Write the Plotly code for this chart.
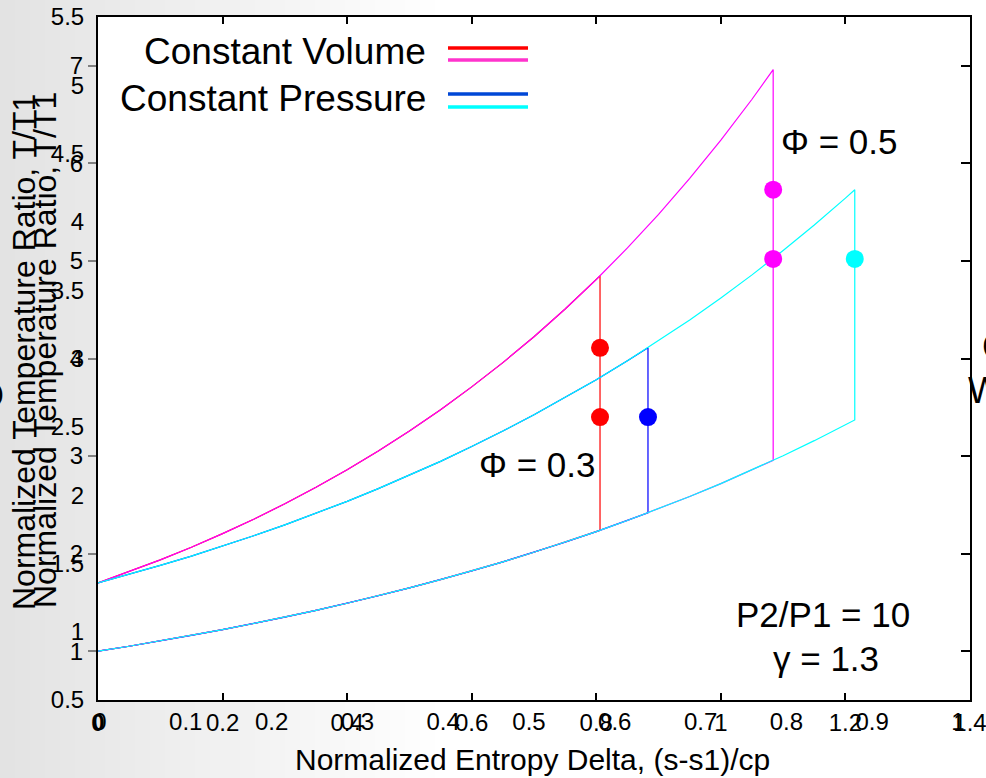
import plotly.graph_objects as go

# ---------------- data ----------------
# Normalized entropy delta (s-s1)/cp sample points and temperature ratios T/T1
s_grid = [0.0, 0.05, 0.1, 0.15, 0.2, 0.25, 0.3, 0.35, 0.4, 0.45, 0.5, 0.55, 0.6, 0.65,
          0.7, 0.75, 0.8, 0.85, 0.9, 0.95, 1.0, 1.05, 1.1, 1.15, 1.2]
# upper curve, constant volume heat addition
t_cv_upper = [1.700, 1.814, 1.936, 2.066, 2.205, 2.353, 2.511, 2.680, 2.859, 3.052, 3.256,
              3.475, 3.709, 3.958, 4.223, 4.507, 4.810, 5.133, 5.477, 5.845, 6.238, 6.657]
# upper curve, constant pressure heat addition
t_cp_upper = [1.700, 1.787, 1.879, 1.975, 2.076, 2.183, 2.295, 2.412, 2.536, 2.666, 2.803,
              2.946, 3.098, 3.256, 3.423, 3.599, 3.783, 3.977, 4.182, 4.395, 4.621, 4.857,
              5.107, 5.368, 5.644]
# lower (heat rejection) curve, common to all cycles
t_lower = [1.000, 1.051, 1.105, 1.162, 1.221, 1.284, 1.350, 1.419, 1.492, 1.568, 1.649,
           1.733, 1.822, 1.916, 2.014, 2.117, 2.226, 2.340, 2.460, 2.586, 2.718, 2.858,
           3.004, 3.158, 3.320]

# end of heat addition for each cycle: (s_end, T_upper_end, T_lower_end)
cv03_end = (0.806, 4.847, 2.239)   # constant volume, phi = 0.3 (red)
cp03_end = (0.883, 4.111, 2.418)   # constant pressure, phi = 0.3 (blue)
cv05_end = (1.084, 6.961, 2.956)   # constant volume, phi = 0.5 (magenta)
cp05_end = (1.215, 5.730, 3.370)   # constant pressure, phi = 0.5 (cyan)

# Dot markers
dot_red_x = [0.806, 0.806]
dot_red_y = [4.11, 3.40]
dot_blue_x = [0.883]
dot_blue_y = [3.40]
dot_mag_x = [1.084, 1.084]
dot_mag_y = [5.73, 5.02]
dot_cyan_x = [1.215]
dot_cyan_y = [5.02]

# Tick values of the two overlaid axis sets
x_ticks_main = [0, 0.2, 0.4, 0.6, 0.8, 1.0, 1.2, 1.4]
y_ticks_main = [1, 2, 3, 4, 5, 6, 7]
x_ticks_over = [0, 0.1, 0.2, 0.3, 0.4, 0.5, 0.6, 0.7, 0.8, 0.9, 1.0]
y_ticks_over = [0.5, 1, 1.5, 2, 2.5, 3, 3.5, 4, 4.5, 5, 5.5]

legend_labels = ["Constant Volume", "Constant Pressure"]

# ---------------- layout geometry ----------------
W, H = 986, 778
L, R, T, B = 98, 970, 17, 700
FONT = "Liberation Sans, Arial, Helvetica, sans-serif"
X_RANGE = [0, 1.4]
Y_RANGE = [0.5, 7.5]


def pxx(x):
    return (x - L) / (R - L)


def pxy(y):
    return (B - y) / (B - T)


fig = go.Figure()


def cycle(upper, end, color, name):
    s_end, t_up_end, t_low_end = end
    idx = [i for i, s in enumerate(s_grid) if s < s_end and i < len(upper)]
    s_part = [s_grid[i] for i in idx]
    xs = s_part + [s_end, s_end] + list(reversed(s_part))
    ys = ([upper[i] for i in idx] + [t_up_end, t_low_end]
          + list(reversed([t_lower[i] for i in idx])))
    fig.add_trace(go.Scatter(x=xs, y=ys, mode="lines", name=name,
                             line=dict(color=color, width=1.2),
                             showlegend=False, hoverinfo="skip"))


cycle(t_cv_upper, cv03_end, "#ff0000", "CV phi 0.3")
cycle(t_cp_upper, cp03_end, "#0000ff", "CP phi 0.3")
cycle(t_cv_upper, cv05_end, "#ff00ff", "CV phi 0.5")
cycle(t_cp_upper, cp05_end, "#00ffff", "CP phi 0.5")

for xs, ys, c in [(dot_red_x, dot_red_y, "#ff0000"), (dot_blue_x, dot_blue_y, "#0000ff"),
                  (dot_mag_x, dot_mag_y, "#ff00ff"), (dot_cyan_x, dot_cyan_y, "#00ffff")]:
    fig.add_trace(go.Scatter(x=xs, y=ys, mode="markers", showlegend=False,
                             marker=dict(color=c, size=18, line=dict(width=0))))

# invisible traces to activate the overlaid axes
fig.add_trace(go.Scatter(x=[0.5], y=[1], xaxis="x2", yaxis="y2", mode="markers",
                         marker=dict(opacity=0), showlegend=False, hoverinfo="skip"))
fig.add_trace(go.Scatter(x=[0.5], y=[1], xaxis="x", yaxis="y3", mode="markers",
                         marker=dict(opacity=0), showlegend=False, hoverinfo="skip"))

tickfont = dict(family=FONT, size=24, color="black")
plain = dict(showgrid=False, zeroline=False)

fig.update_layout(
    width=W, height=H,
    margin=dict(l=L, r=W - R, t=T, b=H - B, autoexpand=False),
    paper_bgcolor="white", plot_bgcolor="white",
    showlegend=False,
    # main axis set (0..1.4, 1..7)
    xaxis=dict(range=X_RANGE, tickvals=x_ticks_main,
               ticktext=["<b>0</b>"] + [f"{v:g}" for v in x_ticks_main[1:]],
               ticks="inside", ticklen=7, tickwidth=1.5, tickcolor="black",
               showline=True, linewidth=2, linecolor="black", mirror="ticks",
               tickfont=tickfont, ticklabelstandoff=0,
               ticklabeloverflow="allow", **plain),
    yaxis=dict(range=Y_RANGE, tickvals=y_ticks_main, ticktext=[f"{v:g}" for v in y_ticks_main],
               ticks="outside", ticklen=8, tickwidth=1.5, tickcolor="#808080",
               showline=True, linewidth=2, linecolor="black", mirror=True,
               tickfont=tickfont, ticklabeloverflow="allow", **plain),
    # second overlaid axis set (0..1, 0.5..5.5): labels only
    xaxis2=dict(range=[-0.0023, 1.014], overlaying="x", anchor="y", side="bottom",
                tickvals=x_ticks_over, ticktext=[f"{v:g}" for v in x_ticks_over],
                ticks="", tickfont=tickfont, ticklabelstandoff=5, showline=False,
                ticklabeloverflow="allow", **plain),
    yaxis2=dict(range=[0.5, 5.5], overlaying="y", anchor="x", side="left",
                tickvals=y_ticks_over, ticktext=[f"{v:g}" for v in y_ticks_over],
                ticks="outside", ticklen=8, tickcolor="rgba(0,0,0,0)", showline=False,
                tickfont=tickfont, ticklabeloverflow="allow", **plain),
    # right-hand inward tick marks
    yaxis3=dict(range=Y_RANGE, overlaying="y", anchor="x", side="right",
                tickvals=y_ticks_main, ticks="inside", ticklen=9, tickwidth=1.5,
                tickcolor="black", showticklabels=False, showline=False, **plain),
)

# ---------------- background gradient (slide area outside the axes) ----------------
shapes = []
n_bands = 30
for i in range(n_bands):
    x0 = i * 15
    x1 = x0 + 15
    t = i / (n_bands - 1)
    g = int(round(0xe3 + (0xff - 0xe3) * t))
    col = f"rgb({g},{g},{g})"
    rects = []
    if x1 <= L:
        rects.append((x0, x1, 0, H))
    else:
        rects.append((x0, x1, 0, T - 1))
        rects.append((x0, x1, B + 1, H))
        if x0 < L:
            rects.append((x0, L - 1, T - 1, B + 1))
    for xa, xb, ya, yb in rects:
        shapes.append(dict(type="rect", xref="paper", yref="paper", layer="below",
                           x0=pxx(xa), x1=pxx(xb), y0=pxy(yb), y1=pxy(ya),
                           fillcolor=col, line=dict(width=0)))

# legend sample lines (text on the left, two coloured lines on the right)
leg_lines = [(48, "#ff0000"), (60, "#ff33cc"), (94, "#0047d6"), (107, "#00ffff")]
for yy, c in leg_lines:
    shapes.append(dict(type="line", xref="paper", yref="paper",
                       x0=pxx(448), x1=pxx(528), y0=pxy(yy), y1=pxy(yy),
                       line=dict(color=c, width=3.5)))
fig.update_layout(shapes=shapes)

ann = []


def text_px(txt, x, y, size, xanchor="center", angle=0, color="black"):
    ann.append(dict(text=txt, x=pxx(x), y=pxy(y), xref="paper", yref="paper",
                    xanchor=xanchor, yanchor="middle", showarrow=False,
                    textangle=angle, font=dict(family=FONT, size=size, color=color)))


text_px(legend_labels[0], 428, 52, 37, xanchor="right")
text_px(legend_labels[1], 428, 98, 37, xanchor="right")

# data-positioned labels
for txt, x, y in [("Φ = 0.3", 0.705, 2.91), ("Φ = 0.5", 1.190, 6.22),
                  ("P2/P1 = 10", 1.164, 1.38), ("γ = 1.3", 1.168, 0.93)]:
    ann.append(dict(text=txt, x=x, y=y, xref="x", yref="y", showarrow=False,
                    xanchor="center", yanchor="middle",
                    font=dict(family=FONT, size=35, color="black")))

# axis titles (two slightly offset overlaid copies of the y title)
text_px("Normalized Entropy Delta, (s-s1)/cp", 532, 760, 30)
text_px("Normalized Temperature Ratio, T/T1", 24, 352, 32, angle=-90)
text_px("Normalized Temperature Ratio, T/T1", 45, 350, 32, angle=-90)

# cut-off text fragments at the slide edges
text_px("C", 980, 346, 36, xanchor="left")
text_px("W", 966, 390, 36, xanchor="left")
text_px("O", 6, 395, 36, xanchor="right")

fig.update_layout(annotations=ann)

fig.write_html("out.html", config={"displayModeBar": False},
               post_script="document.body.style.margin='0px';")
